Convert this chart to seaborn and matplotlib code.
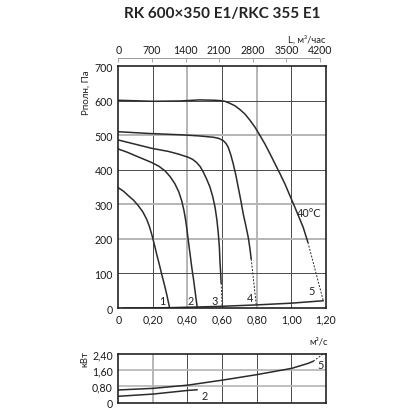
import matplotlib
matplotlib.use('Agg')
import matplotlib.pyplot as plt
import seaborn as sns
import numpy as np

# Fan curves (x: m3/s, y: Pa)
c1_x = [0, 0.03, 0.058, 0.088, 0.116, 0.142, 0.164, 0.18, 0.193, 0.208, 0.222, 0.237, 0.251, 0.266, 0.28, 0.297]
c1_y = [348, 338, 325, 312, 296, 278, 257, 236, 214, 185, 156, 127, 98, 69, 40, 0]
c2_x = [0, 0.05, 0.097, 0.145, 0.193, 0.235, 0.27, 0.30, 0.328, 0.35, 0.367, 0.38, 0.39, 0.398, 0.405,
        0.415, 0.425, 0.435, 0.444, 0.457]
c2_y = [460, 451, 441, 431, 421, 410, 397, 380, 359, 336, 310, 282, 253, 224, 195, 157, 118, 84, 50, 0]
c3_x = [0, 0.097, 0.193, 0.29, 0.35, 0.405, 0.43, 0.453, 0.474, 0.492, 0.512, 0.531, 0.547, 0.56,
        0.571, 0.579, 0.585, 0.588, 0.592, 0.595]
c3_y = [486, 474, 462, 453, 445, 436, 430, 421, 409, 393, 372, 349, 321, 291, 253, 214, 175, 137, 104, 72]
c3_dash_x = [0.595, 0.601]
c3_dash_y = [72, 4]
c4_x = [0, 0.174, 0.367, 0.463, 0.55, 0.58, 0.608, 0.623, 0.636, 0.651, 0.665, 0.68, 0.694, 0.709,
        0.723, 0.738, 0.752, 0.761, 0.769]
c4_y = [510, 505, 501, 498, 494, 491, 484, 476, 465, 443, 417, 385, 349, 311, 272, 238, 204, 174, 142]
c4_dash_x = [0.769, 0.798]
c4_dash_y = [142, 10]
c5_x = [0, 0.2, 0.36, 0.47, 0.56, 0.59, 0.617, 0.646, 0.675, 0.704, 0.733, 0.762, 0.791, 0.82, 0.849,
        0.878, 0.907, 0.936, 0.964, 0.993, 1.022, 1.046, 1.07, 1.097]
c5_y = [601, 598, 599, 602, 601, 600, 598, 592, 585, 574, 561, 543, 523, 499, 474, 446, 417, 388, 359,
        325, 291, 262, 233, 190]
c5_dash_x = [1.097, 1.186]
c5_dash_y = [190, 21]
base_x = [0.03, 0.30, 0.46, 0.60, 0.80, 1.00, 1.186]
base_y = [0, 1, 3, 5, 9, 14, 21]

# Power curves (kW)
p5_x = [0, 0.203, 0.405, 0.608, 0.80, 1.003, 1.10, 1.128]
p5_y = [0.62, 0.70, 0.86, 1.11, 1.37, 1.68, 1.93, 2.03]
p5_dash_x = [1.128, 1.186]
p5_dash_y = [2.03, 2.39]
p2_x = [0, 0.203, 0.405, 0.457]
p2_y = [0.31, 0.42, 0.60, 0.63]

x_ticks = [0, 0.2, 0.4, 0.6, 0.8, 1.0, 1.2]
x_labels = ['0', '0,20', '0,40', '0,60', '0,80', '1,00', '1,20']
p_ticks = [0, 100, 200, 300, 400, 500, 600, 700]
kw_ticks = [0, 0.8, 1.6, 2.4]
kw_labels = ['0', '0,80', '1,60', '2,40']
L_ticks = [0, 700, 1400, 2100, 2800, 3500, 4200]

sns.set_style('white')
plt.rcParams['font.family'] = ['Lato', 'DejaVu Sans']

line_col = '#2b2b2b'
dark_grid = '#4a4a4a'
light_grid = '#b5b5b5'

fig = plt.figure(figsize=(4.1, 4.1), dpi=100)
ax = fig.add_axes([0.2885, 0.2463, 0.5059, 0.5902])
ax2 = fig.add_axes([0.2885, 0.0156, 0.5059, 0.1193])

# grid of main chart
for xv in [0.2, 0.6, 1.0]:
  ax.axvline(xv, color=dark_grid, lw=0.7, zorder=0)
for xv in [0.4, 0.8]:
  ax.axvline(xv, color=light_grid, lw=1.4, zorder=0)
for yv in [100, 400, 600]:
  ax.axhline(yv, color=dark_grid, lw=0.7, zorder=0)
for yv in [200, 300, 500]:
  ax.axhline(yv, color=light_grid, lw=1.4, zorder=0)

curves = [(c1_x, c1_y), (c2_x, c2_y), (c3_x, c3_y), (c4_x, c4_y), (c5_x, c5_y), (base_x, base_y)]
for cx, cy in curves:
  sns.lineplot(x=cx, y=cy, ax=ax, sort=False, estimator=None, color=line_col, lw=1.1)
for cx, cy in [(c3_dash_x, c3_dash_y), (c4_dash_x, c4_dash_y), (c5_dash_x, c5_dash_y)]:
  sns.lineplot(x=cx, y=cy, ax=ax, sort=False, estimator=None, color=line_col, lw=0.7,
               linestyle=(0, (2, 1.5)))

for lab, lx, ly in [('1', 0.257, 22), ('2', 0.42, 22), ('3', 0.56, 23), ('4', 0.762, 31), ('5', 1.119, 50)]:
  ax.text(lx, ly, lab, fontsize=7.8, ha='center', va='center', color='#222')
ax.text(1.033, 277, '40°C', fontsize=7.8, ha='left', va='center', color='#222')

ax.set_xlim(0, 1.2)
ax.set_ylim(0, 700)
ax.set_xticks(x_ticks)
ax.set_xticklabels(x_labels)
ax.set_yticks(p_ticks)
ax.tick_params(length=0, labelsize=7.6, pad=4, colors='#1a1a1a')
for s in ax.spines.values():
  s.set_color('#222')
  s.set_linewidth(1.2)

# top axis in m3/h
sec = ax.secondary_xaxis('top', functions=(lambda q: q * 3600, lambda L: np.asarray(L) / 3600))
sec.set_xticks(L_ticks)
sec.spines['top'].set_position(('outward', 6))
sec.spines['top'].set_color('#999')
sec.spines['top'].set_linewidth(0.7)
sec.spines['top'].set_bounds(0, 4200)
sec.tick_params(direction='in', length=3, width=0.6, color='#999', labelsize=7.6, pad=2,
                labelcolor='#1a1a1a')

# power chart
for xv in [0.4, 0.6, 0.8, 1.0]:
  ax2.axvline(xv, color=dark_grid, lw=0.7, zorder=0)
ax2.axvline(0.2, color=light_grid, lw=1.4, zorder=0)
for yv in [0.8, 1.6]:
  ax2.axhline(yv, color=light_grid, lw=1.2, zorder=0)
sns.lineplot(x=p5_x, y=p5_y, ax=ax2, sort=False, estimator=None, color=line_col, lw=1.1)
sns.lineplot(x=p2_x, y=p2_y, ax=ax2, sort=False, estimator=None, color=line_col, lw=1.1)
sns.lineplot(x=p5_dash_x, y=p5_dash_y, ax=ax2, sort=False, estimator=None, color=line_col,
             lw=0.7, linestyle=(0, (2, 1.5)))
ax2.text(0.50, 0.37, '2', fontsize=7.8, ha='center', va='center', color='#222')
ax2.text(1.171, 1.89, '5', fontsize=7.8, ha='center', va='center', color='#222')
ax2.set_xlim(0, 1.2)
ax2.set_ylim(0, 2.4)
ax2.set_xticks([])
ax2.set_yticks(kw_ticks)
ax2.set_yticklabels(kw_labels)
ax2.tick_params(length=0, labelsize=7.6, pad=4, colors='#1a1a1a')
for s in ax2.spines.values():
  s.set_color('#222')
  s.set_linewidth(1.2)

fig.text(0.541, 0.966, 'RK 600×350 E1/RKC 355 E1', fontsize=11, fontweight='bold',
         ha='center', va='center', color='#222')
fig.text(0.795, 0.902, 'L, м³/час', fontsize=6.8, ha='right', va='center', color='#222')
fig.text(0.80, 0.165, 'м³/с', fontsize=6.8, ha='right', va='center', color='#222')
fig.text(0.211, 0.773, 'Pполн, Па', fontsize=7, rotation=90, ha='center', va='center', color='#222')
fig.text(0.207, 0.124, 'кВт', fontsize=6.8, rotation=90, ha='center', va='center', color='#222')

fig.savefig('out.png', dpi=100)
